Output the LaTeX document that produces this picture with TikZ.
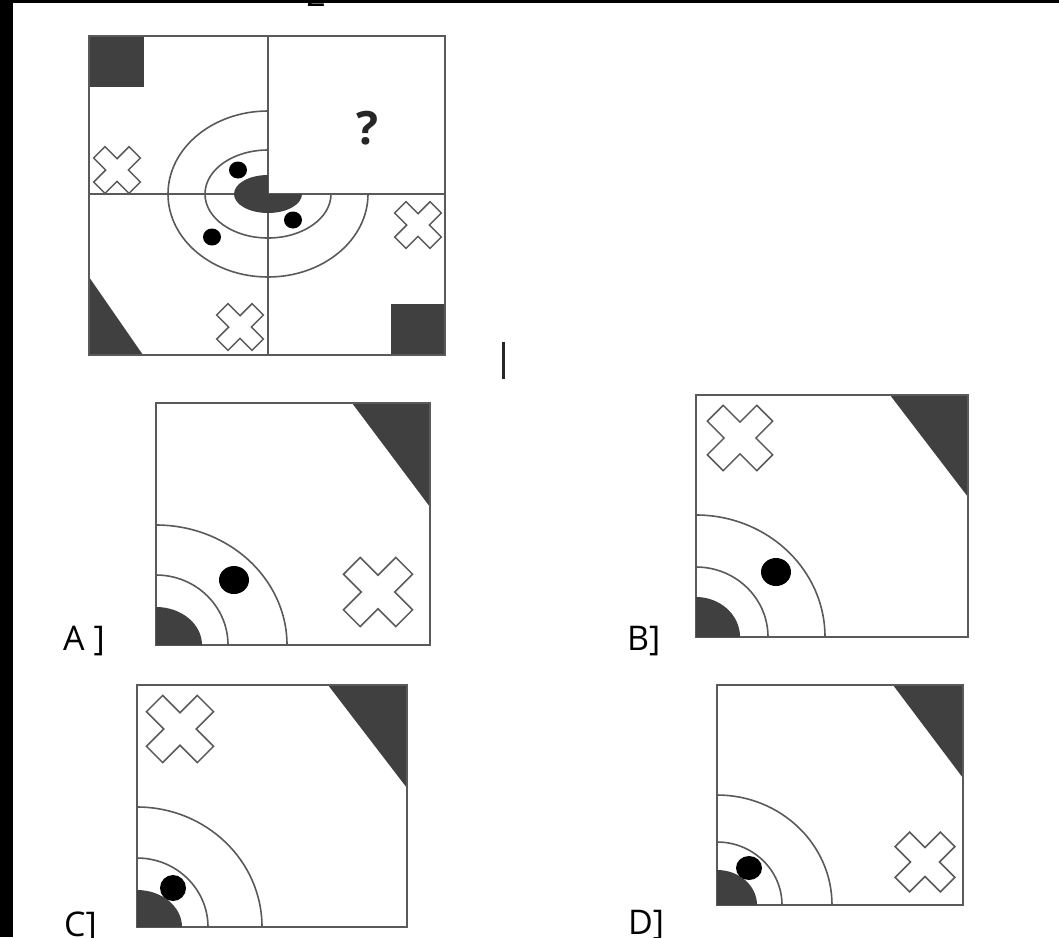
\documentclass[tikz,border=0pt]{standalone}
\usepackage{fontspec}
\setmainfont{Open Sans}
\usepackage{tikz}

\definecolor{tilegrey}{HTML}{404040}
\definecolor{rim}{HTML}{5A5A5A}

\tikzset{
  frameline/.style={draw=rim,line width=2pt},
  boxline/.style={draw=rim,line width=2.6pt},
  ringline/.style={draw=rim,line width=1.6pt},
  crossline/.style={draw=rim,fill=white,line width=1.5pt},
  optlabel/.style={font=\fontsize{34}{40}\selectfont,anchor=base west,inner sep=0pt},
}

% white X with grey rim, centre (#1,#2), size #3
\newcommand{\xcross}[3]{%
  \draw[crossline,shift={(#1,#2)},rotate=45,scale=#3]
    (0.32,0.32) -- (0.32,1) -- (-0.32,1) -- (-0.32,0.32) -- (-1,0.32) -- (-1,-0.32)
    -- (-0.32,-0.32) -- (-0.32,-1) -- (0.32,-1) -- (0.32,-0.32) -- (1,-0.32) -- (1,0.32) -- cycle;}

\begin{document}
\begin{tikzpicture}[x=1pt,y=-1pt]
\useasboundingbox (0,0) rectangle (1059,937);
\fill[white] (0,0) rectangle (1059,937);
\fill[black] (0,0) rectangle (13,937);
\fill[black] (0,0) rectangle (1059,3);
\node[font=\fontsize{34}{40}\selectfont,anchor=base,inner sep=0pt] (cuttwo) at (316,6) {2};

% puzzle
\fill[tilegrey] (89,36) rectangle (144,87);
\fill[tilegrey] (391,304) rectangle (445,355);
\fill[tilegrey] (89,277) -- (89,355) -- (143,355) -- cycle;

\draw[frameline] (89,36) rectangle (445,355);
\draw[frameline] (268,36) -- (268,355);
\draw[frameline] (89,194) -- (445,194);

\draw[ringline] (268,194) ++(100,0) arc[start angle=0,end angle=270,x radius=100,y radius=83];
\draw[ringline] (268,194) ++(63,0) arc[start angle=0,end angle=270,x radius=63,y radius=44];
\fill[tilegrey] (268,194) -- ++(34,0) arc[start angle=0,end angle=270,x radius=34,y radius=19] -- cycle;

\fill[black] (238,170) ellipse (9 and 8.5);
\fill[black] (293,220) ellipse (9 and 8.5);
\fill[black] (212,237) ellipse (9 and 8.5);

\xcross{117}{170}{25}
\xcross{418}{225}{25}
\xcross{240}{327}{25}

\node[font=\fontsize{46}{50}\selectfont\bfseries,text=black!85] (qmark) at (367,128) {?};

\draw[line width=2.6pt,black!85] (503.5,342) -- (503.5,379);

% A
\fill[tilegrey] (352,403) -- (430,403) -- (430,507) -- cycle;
\draw[boxline] (156,403) rectangle (430,645);
\fill[tilegrey] (156,645) -- ++(46,0) arc[start angle=0,end angle=-90,x radius=46,y radius=38] -- cycle;
\draw[ringline] (156,645) ++(72,0) arc[start angle=0,end angle=-90,x radius=72,y radius=70];
\draw[ringline] (156,645) ++(131,0) arc[start angle=0,end angle=-90,x radius=131,y radius=120];
\fill[black] (234,580) ellipse (15 and 14);
\xcross{378}{592}{37}
\node[optlabel] (labA) at (63,650) {A ]};

% B
\fill[tilegrey] (890,395) -- (968,395) -- (968,497) -- cycle;
\draw[boxline] (696,395) rectangle (968,637);
\fill[tilegrey] (696,637) -- ++(44,0) arc[start angle=0,end angle=-90,x radius=44,y radius=40] -- cycle;
\draw[ringline] (696,637) ++(72,0) arc[start angle=0,end angle=-90,x radius=72,y radius=70];
\draw[ringline] (696,637) ++(129,0) arc[start angle=0,end angle=-90,x radius=129,y radius=122];
\fill[black] (776,572) ellipse (15 and 14);
\xcross{740}{438}{35}
\node[optlabel] (labB) at (627,650) {B]};

% C
\fill[tilegrey] (328,685) -- (407,685) -- (407,788) -- cycle;
\draw[boxline] (137,685) rectangle (407,927);
\fill[tilegrey] (137,927) -- ++(45,0) arc[start angle=0,end angle=-90,x radius=45,y radius=37] -- cycle;
\draw[ringline] (137,927) ++(71,0) arc[start angle=0,end angle=-90,x radius=71,y radius=69];
\draw[ringline] (137,927) ++(125,0) arc[start angle=0,end angle=-90,x radius=125,y radius=120];
\fill[black] (173,888) ellipse (13 and 13);
\xcross{180}{729}{36}
\node[optlabel] (labC) at (64,936) {C]};

% D
\fill[tilegrey] (893,685) -- (963,685) -- (963,778) -- cycle;
\draw[boxline] (717,685) rectangle (963,905);
\fill[tilegrey] (717,905) -- ++(40,0) arc[start angle=0,end angle=-90,x radius=40,y radius=35] -- cycle;
\draw[ringline] (717,905) ++(65,0) arc[start angle=0,end angle=-90,x radius=65,y radius=63];
\draw[ringline] (717,905) ++(115,0) arc[start angle=0,end angle=-90,x radius=115,y radius=110];
\fill[black] (749,868) ellipse (13 and 12);
\xcross{925}{862}{32}
\node[optlabel] (labD) at (628,934) {D]};
\end{tikzpicture}
\end{document}
